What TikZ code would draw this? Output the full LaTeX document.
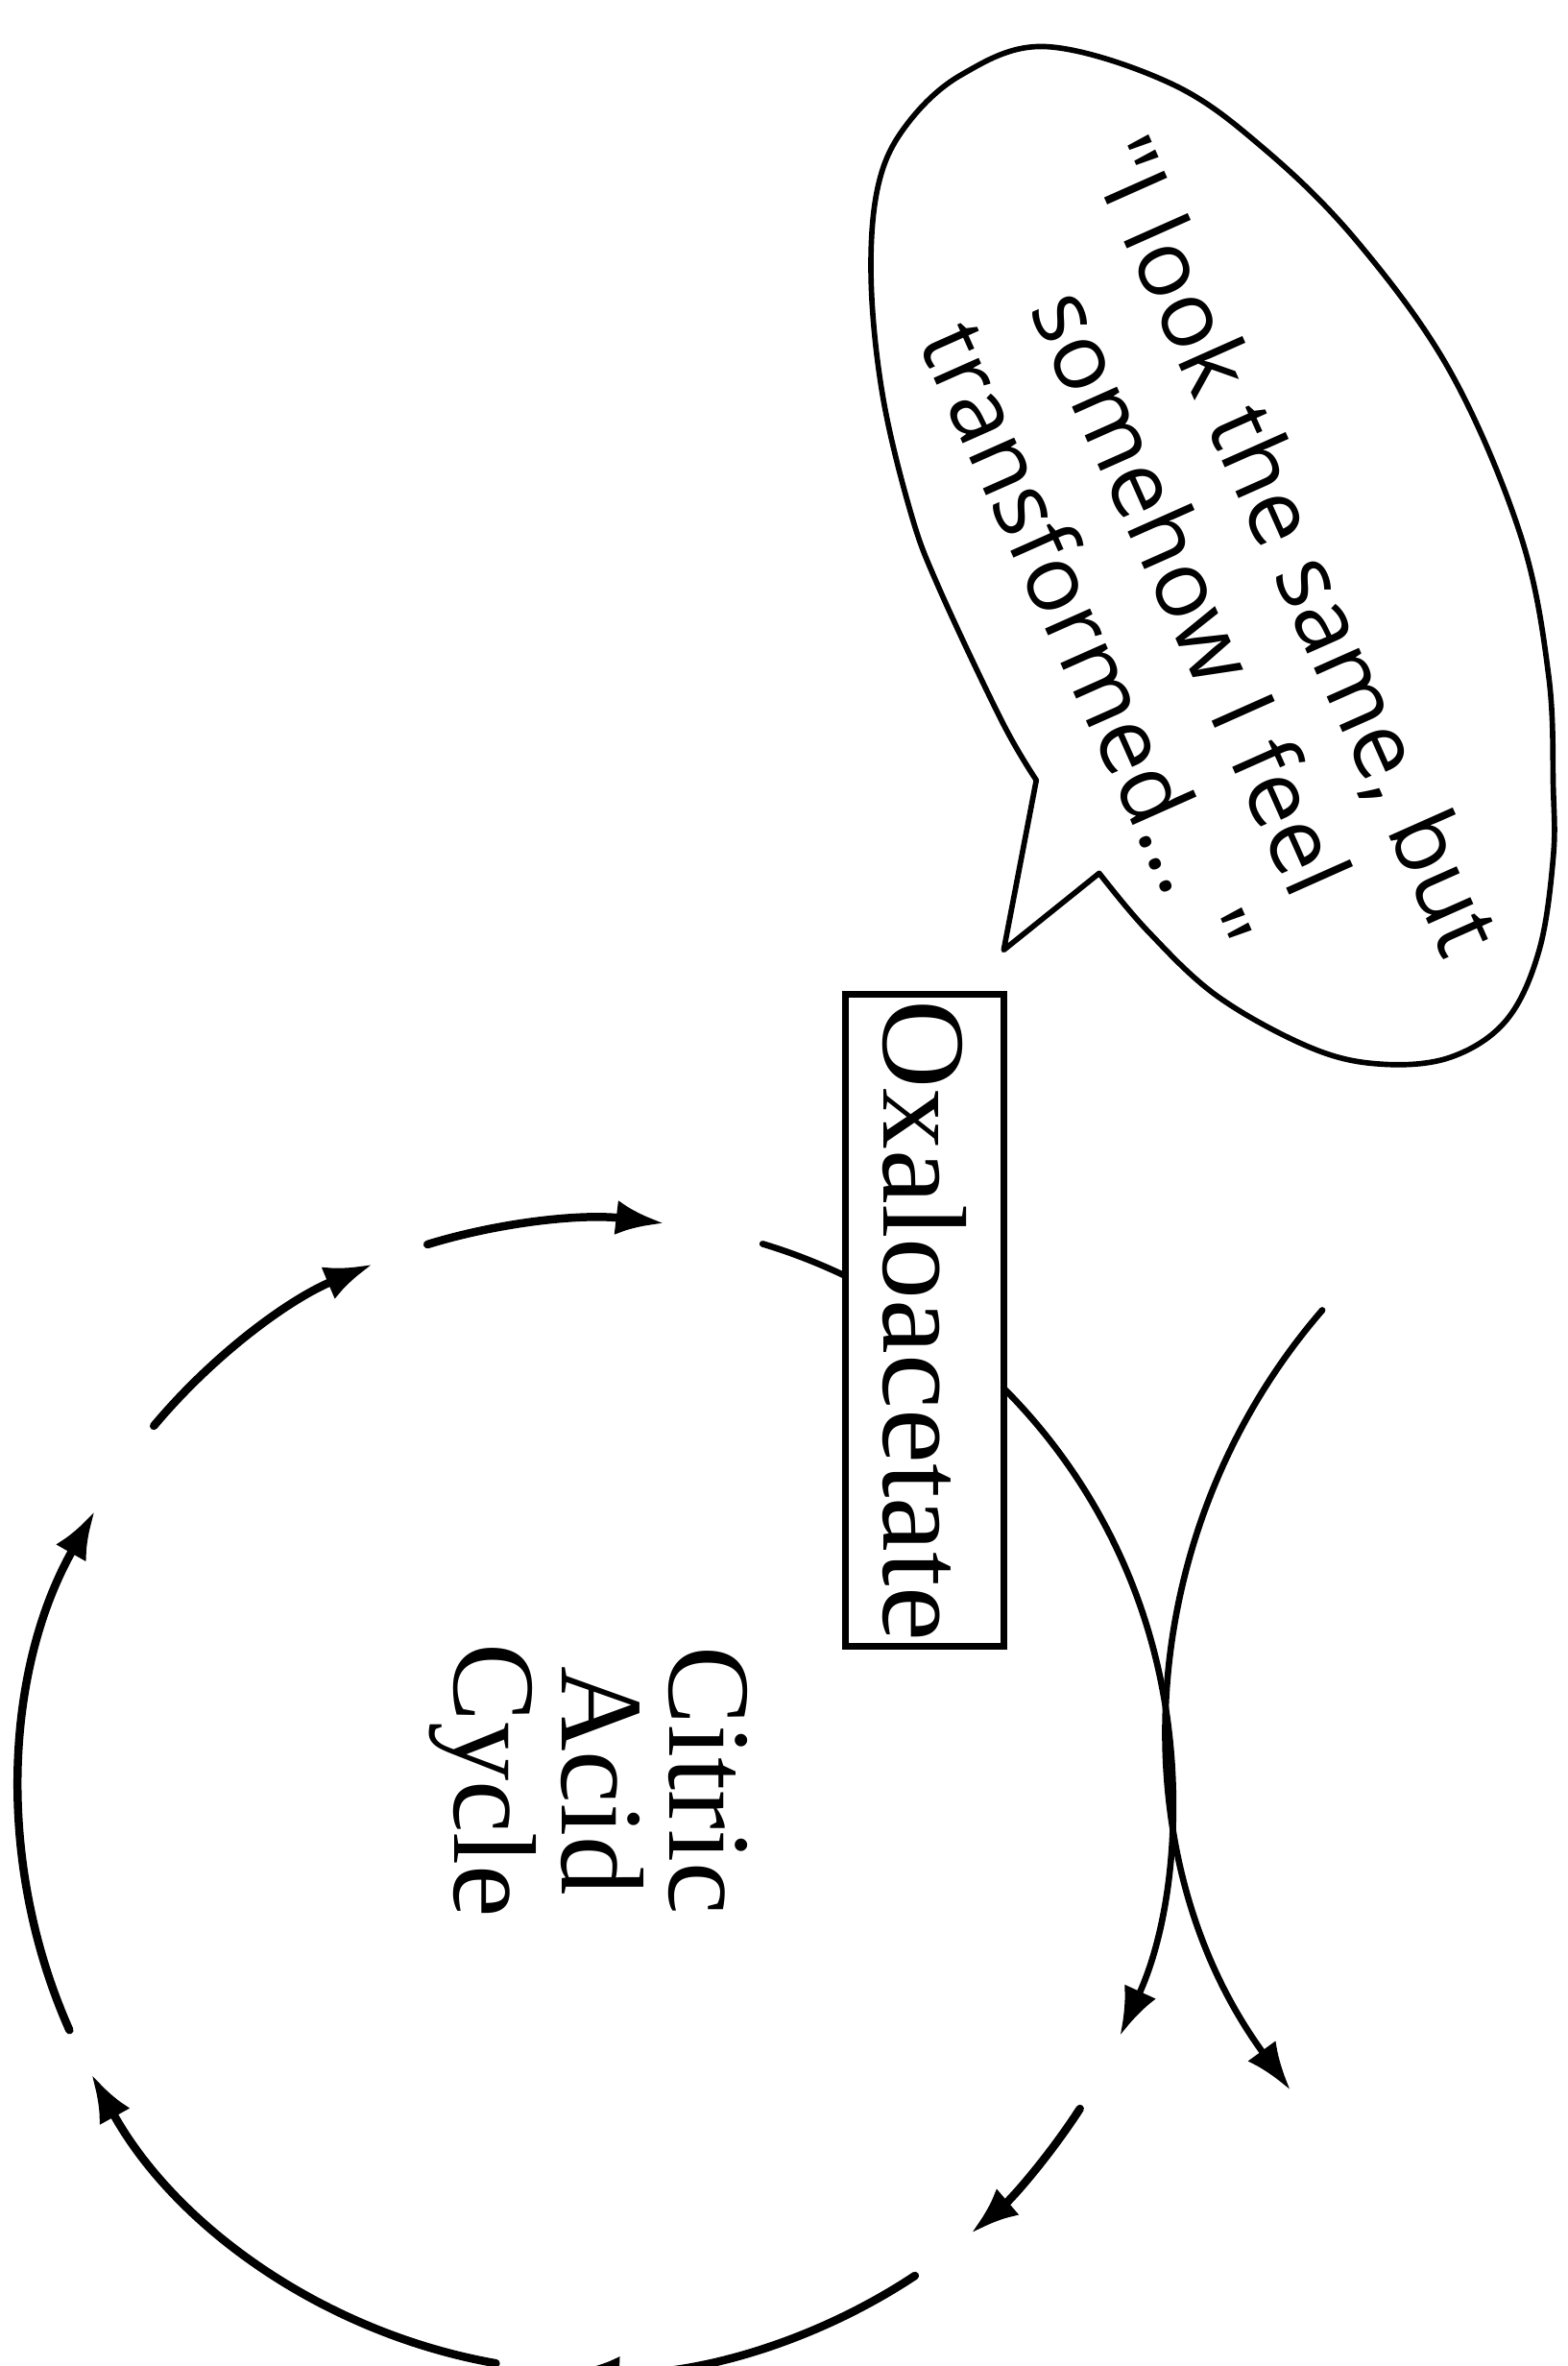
\documentclass[tikz,border=0pt]{standalone}
\usepackage{fontspec}
\setmainfont{Liberation Serif}
\newfontfamily\handfont{Open Sans}
\usetikzlibrary{arrows.meta,calc}
\begin{document}
\begin{tikzpicture}[x=1pt,y=-1pt,
  stroke/.style={line width=5.4pt, black, line cap=round},
  cyc/.style={stroke,-{Latex[length=32pt,width=23pt]}},
  thincyc/.style={cyc, line width=4.2pt},
  bubble/.style={line width=3.6pt, line join=round, black},
  boxlabel/.style={draw, line width=4.5pt, fill=white, rotate=-90, inner sep=0pt,
    minimum width=432pt, minimum height=105pt, font=\fontsize{79}{79}\selectfont},
  cyclabel/.style={rotate=-90, align=center, font=\fontsize{78}{71}\selectfont},
  saylabel/.style={rotate=-66, align=center, font=\handfont\fontsize{61}{76}\selectfont},
]
\clip (0,0) rectangle (1038.55,1568);
\fill[white] (0,0) rectangle (1038.55,1568);
\coordinate (C) at (395,1190);
\coordinate (D) at (1190,1140);
\def\R{382}
\def\Rb{415}
% cycle arcs
\draw[cyc] ($(C)+(-107:\R)$) arc[start angle=-107, end angle=-83.2, radius=\R];
\draw[cyc] ($(C)+(-140.1:\R)$) arc[start angle=-140.1, end angle=-112.8, radius=\R];
\draw[cyc] ($(C)+(-204:\R)$) arc[start angle=-204, end angle=-150.4, radius=\R];
\draw[cyc] ($(C)+(-260:\R)$) arc[start angle=-260, end angle=-208.9, radius=\R];
\draw[cyc] ($(C)+(-303.6:\R)$) arc[start angle=-303.6, end angle=-267.5, radius=\R];
\draw[cyc] ($(C)+(32.9:\R)$) arc[start angle=32.9, end angle=49.4, radius=\R];
\draw[thincyc] ($(C)+(-73.2:\R)$) arc[start angle=-73.2, end angle=24.6, radius=\R];
% incoming curve
\draw[thincyc] ($(D)+(-139.1:\Rb)$) arc[start angle=-139.1, end angle=-216.2, radius=\Rb];
% labels
\node[boxlabel] (oxa) at (613,875) {\scalebox{1.03}[1]{Oxaloacetate}};
\node[cyclabel] (cac) at (390,1180) {Citric\\Acid\\Cycle};
% speech bubble
\draw[bubble] plot[smooth, tension=0.6] coordinates {(728.5,578.7) (760.9,617.3) (807.2,660.5) (868.9,694.4) (915.2,705.2) (961.5,700.6) (998.5,675.9) (1020.1,629.6) (1029.4,567.9) (1029.4,521.6) (1026.3,447.5) (1007.8,354.9) (961.5,246.9) (899.8,160.5) (838,98.8) (776.3,55.5) (693,30.9) (637.4,49.4) (600.4,83.3) (581.9,123.4) (577.3,185.2) (585,262.3) (603.5,339.5) (622,389) (664,478) (686.8,517)} -- (665.2,629.6) -- cycle;
\node[saylabel] (say) at (790,392) {"I look the same, but\\somehow I feel\\transformed... "};
\end{tikzpicture}
\end{document}
